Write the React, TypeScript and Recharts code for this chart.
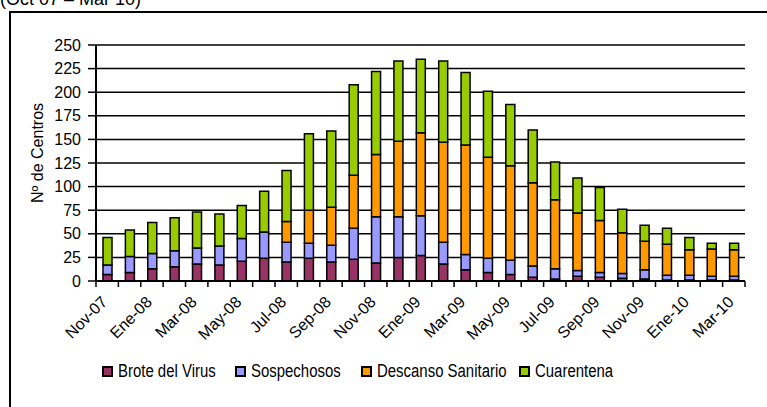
import { BarChart, Bar, XAxis, YAxis, CartesianGrid, Legend } from 'recharts';

const months = [
  'Nov-07', 'Dic-07', 'Ene-08', 'Feb-08', 'Mar-08', 'Abr-08', 'May-08', 'Jun-08',
  'Jul-08', 'Ago-08', 'Sep-08', 'Oct-08', 'Nov-08', 'Dic-08', 'Ene-09', 'Feb-09',
  'Mar-09', 'Abr-09', 'May-09', 'Jun-09', 'Jul-09', 'Ago-09', 'Sep-09', 'Oct-09',
  'Nov-09', 'Dic-09', 'Ene-10', 'Feb-10', 'Mar-10',
];
const brote = [7, 9, 13, 15, 18, 17, 21, 24, 20, 24, 20, 23, 19, 25, 27, 18, 12, 9, 7, 4, 2, 5, 4, 3, 2, 1, 1, 1, 1];
const sospechosos = [10, 17, 16, 17, 17, 20, 24, 28, 21, 16, 18, 33, 49, 43, 42, 23, 16, 15, 15, 12, 11, 6, 5, 5, 10, 5, 5, 4, 4];
const descanso = [0, 0, 0, 0, 0, 0, 0, 0, 22, 35, 40, 56, 66, 80, 88, 106, 116, 107, 100, 88, 73, 61, 55, 43, 30, 33, 27, 29, 28];
const cuarentena = [29, 28, 33, 35, 38, 34, 35, 43, 54, 81, 81, 96, 88, 85, 78, 86, 77, 70, 65, 56, 40, 37, 35, 25, 17, 17, 13, 6, 7];
const yTicks = [0, 25, 50, 75, 100, 125, 150, 175, 200, 225, 250];

const series = [
  { key: 'brote', name: 'Brote del Virus', color: '#993366' },
  { key: 'sospechosos', name: 'Sospechosos', color: '#9999FF' },
  { key: 'descanso', name: 'Descanso Sanitario', color: '#FF9900' },
  { key: 'cuarentena', name: 'Cuarentena', color: '#99CC00' },
];

const data = months.map((m, i) => ({
  month: m,
  brote: brote[i],
  sospechosos: sospechosos[i],
  descanso: descanso[i],
  cuarentena: cuarentena[i],
}));

const W = 767;
const H = 407;
const LEFT = 96;
const RIGHT = 22;
const slot = (W - LEFT - RIGHT) / months.length;
const font = '"Liberation Sans", Arial, sans-serif';

const MonthTick = (props: any) => {
  const { x, y, payload, index } = props;
  const show = index % 2 === 0;
  return (
    <g>
      <line x1={x - slot / 2} x2={x - slot / 2} y1={y - 8} y2={y - 2} stroke="#000" strokeWidth={1.5} />
      {index === months.length - 1 && (
        <line x1={x + slot / 2} x2={x + slot / 2} y1={y - 8} y2={y - 2} stroke="#000" strokeWidth={1.5} />
      )}
      {show && (
        <text
          x={x + 1}
          y={y + 14}
          textAnchor="end"
          transform={`rotate(-45 ${x + 1} ${y + 14})`}
          fontSize={16}
          fontFamily={font}
          fill="#000"
        >
          {payload.value}
        </text>
      )}
    </g>
  );
};

const YLabel = (props: any) => {
  const { viewBox } = props;
  const cx = viewBox.x + 37;
  const cy = viewBox.y + viewBox.height / 2 - 10;
  return (
    <text
      x={cx}
      y={cy}
      textAnchor="middle"
      dominantBaseline="central"
      transform={`rotate(-90 ${cx} ${cy})`}
      fontSize={16}
      fontFamily={font}
      fill="#000"
    >
      Nº de Centros
    </text>
  );
};

const legendX = [102, 235, 361, 519];

const LegendContent = () => (
  <div style={{ position: 'relative', height: 22 }}>
    {series.map((s, i) => (
      <div
        key={s.key}
        style={{ position: 'absolute', left: legendX[i], top: 0, height: 22, display: 'flex', alignItems: 'center' }}
      >
        <span
          style={{
            width: 7,
            height: 7,
            background: s.color,
            border: '2px solid #000',
            display: 'inline-block',
            marginRight: 5,
          }}
        />
        <span
          style={{
            fontFamily: font,
            fontSize: 18,
            color: '#000',
            whiteSpace: 'nowrap',
            display: 'inline-block',
            transform: 'scaleX(0.83)',
            transformOrigin: 'left center',
          }}
        >
          {s.name}
        </span>
      </div>
    ))}
  </div>
);

export default function App() {
  return (
    <div style={{ position: 'absolute', left: 0, top: 0, width: W, height: H, background: '#fff', overflow: 'hidden' }}>
      <div
        style={{
          position: 'absolute',
          left: 0,
          top: -10,
          fontFamily: font,
          fontSize: 18,
          lineHeight: '18px',
          whiteSpace: 'nowrap',
        }}
      >
        (Oct 07 – Mar 10)
      </div>
      <div
        style={{
          position: 'absolute',
          left: 9,
          top: 11,
          width: W,
          height: H,
          borderLeft: '2px solid #000',
          borderTop: '2px solid #000',
        }}
      />
      <div style={{ position: 'absolute', left: 0, top: 0 }}>
        <BarChart
          width={W}
          height={H}
          data={data}
          margin={{ top: 45, right: RIGHT, left: 0, bottom: 0 }}
          barSize={9}
        >
          <CartesianGrid vertical={false} stroke="#000" strokeWidth={1.5} />
          <XAxis
            dataKey="month"
            interval={0}
            height={104}
            axisLine={{ stroke: '#000', strokeWidth: 2 }}
            tickLine={false}
            tick={<MonthTick />}
          />
          <YAxis
            width={LEFT}
            domain={[0, 250]}
            ticks={yTicks}
            interval={0}
            axisLine={{ stroke: '#000', strokeWidth: 2 }}
            tickLine={{ stroke: '#000', strokeWidth: 1.5 }}
            tickSize={8}
            tickMargin={7}
            tick={{ fill: '#000', fontSize: 16, fontFamily: font }}
            label={<YLabel />}
          />
          <Legend
            verticalAlign="bottom"
            content={<LegendContent />}
            wrapperStyle={{ position: 'absolute', left: 0, top: 360, width: W, bottom: 'auto' }}
          />
          {series.map((s) => (
            <Bar
              key={s.key}
              dataKey={s.key}
              name={s.name}
              stackId="a"
              fill={s.color}
              stroke="#000"
              strokeWidth={1.5}
              isAnimationActive={false}
            />
          ))}
        </BarChart>
      </div>
    </div>
  );
}
